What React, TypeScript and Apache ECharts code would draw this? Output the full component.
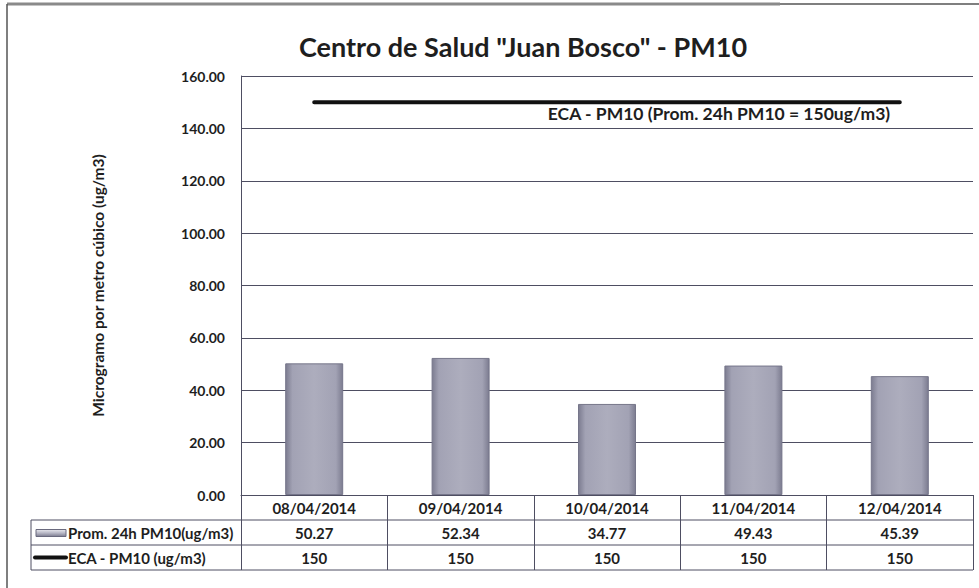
import React, { useEffect, useRef } from "react";
import * as echarts from "echarts";

const titleText = 'Centro de Salud "Juan Bosco" - PM10';
const yAxisName = "Microgramo por metro cúbico (ug/m3)";
const categories = ["08/04/2014", "09/04/2014", "10/04/2014", "11/04/2014", "12/04/2014"];
const barSeriesName = "Prom. 24h PM10(ug/m3)";
const lineSeriesName = "ECA - PM10 (ug/m3)";
const pm10Values = [50.27, 52.34, 34.77, 49.43, 45.39];
const ecaValues = [150, 150, 150, 150, 150];
const ecaLabel = "ECA - PM10 (Prom. 24h PM10 = 150ug/m3)";
const yMin = 0;
const yMax = 160;
const yStep = 20;

const FONT = "Lato, 'Open Sans', sans-serif";
const TXT = "#1e1e1e";

export default function App() {
  const ref = useRef<HTMLDivElement>(null);
  useEffect(() => {
    if (!ref.current) return;
    const chart = echarts.init(ref.current, null, { renderer: "svg" });
    const gridLeft = 241;
    const gridRight = 6;
    const gridTop = 76;
    const gridBottom = 93;
    const axisY = 588 - gridBottom;
    const tableLeft = 31;
    const tableRight = 979 - gridRight;
    const rowH = 25;
    const lineColor = "#4e4e62";
    const tableFont = 15;
    const option: any = {
      animation: false,
      backgroundColor: "#ffffff",
      textStyle: { fontFamily: FONT },
      title: {
        text: titleText,
        left: 518,
        top: 28,
        textAlign: "center",
        textStyle: { fontFamily: FONT, fontSize: 27, fontWeight: "bold", color: TXT },
      },
      grid: { left: gridLeft, right: gridRight, top: gridTop, bottom: gridBottom },
      xAxis: [
        {
          type: "category",
          data: categories,
          position: "bottom",
          axisLine: { show: true, lineStyle: { color: lineColor, width: 1 } },
          axisTick: { show: true, length: rowH * 3, lineStyle: { color: lineColor, width: 1 } },
          axisLabel: { margin: 5, fontFamily: FONT, fontSize: tableFont, fontWeight: "bold", color: TXT },
        },
        {
          type: "category",
          data: pm10Values.map((v) => v.toFixed(2)),
          position: "bottom",
          offset: rowH,
          axisLine: { show: false },
          axisTick: { show: false },
          axisLabel: { margin: 5, fontFamily: FONT, fontSize: tableFont, fontWeight: "bold", color: TXT },
        },
        {
          type: "category",
          data: ecaValues.map((v) => String(v)),
          position: "bottom",
          offset: rowH * 2,
          axisLine: { show: false },
          axisTick: { show: false },
          axisLabel: { margin: 5, fontFamily: FONT, fontSize: tableFont, fontWeight: "bold", color: TXT },
        },
      ],
      yAxis: {
        type: "value",
        min: yMin,
        max: yMax,
        interval: yStep,
        name: yAxisName,
        nameLocation: "middle",
        nameGap: 135,
        nameTextStyle: { fontFamily: FONT, fontSize: 15.5, fontWeight: "bold", color: TXT },
        axisLine: { show: true, lineStyle: { color: lineColor, width: 1 } },
        axisTick: { show: false },
        axisLabel: {
          margin: 16,
          fontFamily: FONT,
          fontSize: 14,
          fontWeight: "bold",
          color: TXT,
          formatter: (v: number) => v.toFixed(2),
        },
        splitLine: { show: true, lineStyle: { color: lineColor, width: 1 } },
      },
      series: [
        {
          name: barSeriesName,
          type: "bar",
          xAxisIndex: 0,
          data: pm10Values,
          barWidth: 58,
          itemStyle: {
            borderColor: "#76768a",
            borderWidth: 1,
            color: new echarts.graphic.LinearGradient(0, 0, 1, 0, [
              { offset: 0, color: "#7c7c90" },
              { offset: 0.12, color: "#a2a2b4" },
              { offset: 0.5, color: "#adadbd" },
              { offset: 0.88, color: "#a2a2b4" },
              { offset: 1, color: "#7c7c90" },
            ]),
          },
        },
        {
          name: lineSeriesName,
          type: "line",
          xAxisIndex: 0,
          data: ecaValues,
          symbol: "none",
          lineStyle: { color: "#111111", width: 4, cap: "round" },
        },
      ],
      graphic: [
        // outer frame
        { type: "line", shape: { x1: 7, y1: 4, x2: 780, y2: 4 }, style: { stroke: "#8a8a8a", lineWidth: 3 } },
        { type: "line", shape: { x1: 780, y1: 4, x2: 979, y2: 4 }, style: { stroke: "#555555", lineWidth: 1.5 } },
        { type: "line", shape: { x1: 7, y1: 4, x2: 7, y2: 588 }, style: { stroke: "#555555", lineWidth: 1.5 } },
        // ECA text box
        {
          type: "text",
          x: 719,
          y: 113,
          style: {
            text: ecaLabel,
            fontFamily: FONT,
            fontSize: 17.5,
            fontWeight: "bold",
            fill: TXT,
            align: "center",
            verticalAlign: "middle",
          },
        },
        // data table lines
        { type: "line", shape: { x1: tableLeft, y1: axisY + rowH, x2: tableRight, y2: axisY + rowH }, style: { stroke: lineColor, lineWidth: 1 } },
        { type: "line", shape: { x1: tableLeft, y1: axisY + rowH * 2, x2: tableRight, y2: axisY + rowH * 2 }, style: { stroke: lineColor, lineWidth: 1 } },
        { type: "line", shape: { x1: tableLeft, y1: axisY + rowH * 3, x2: tableRight, y2: axisY + rowH * 3 }, style: { stroke: lineColor, lineWidth: 1 } },
        { type: "line", shape: { x1: tableLeft, y1: axisY + rowH, x2: tableLeft, y2: axisY + rowH * 3 }, style: { stroke: lineColor, lineWidth: 1 } },
        // legend keys
        {
          type: "rect",
          shape: { x: 36, y: axisY + rowH * 1.5 - 3, width: 30, height: 7 },
          style: {
            fill: new echarts.graphic.LinearGradient(0, 0, 0, 1, [
              { offset: 0, color: "#e8e8ee" },
              { offset: 0.5, color: "#b8b8c6" },
              { offset: 1, color: "#7c7c90" },
            ]),
            stroke: "#6a6a7e",
            lineWidth: 1,
          },
        },
        {
          type: "line",
          shape: { x1: 35, y1: axisY + rowH * 2.5, x2: 66, y2: axisY + rowH * 2.5 },
          style: { stroke: "#111111", lineWidth: 4, lineCap: "round" },
        },
        {
          type: "text",
          x: 68,
          y: axisY + rowH * 1.5,
          style: { text: barSeriesName, fontFamily: FONT, fontSize: tableFont, fontWeight: "bold", fill: TXT, verticalAlign: "middle" },
        },
        {
          type: "text",
          x: 68,
          y: axisY + rowH * 2.5,
          style: { text: lineSeriesName, fontFamily: FONT, fontSize: tableFont, fontWeight: "bold", fill: TXT, verticalAlign: "middle" },
        },
      ],
    };
    chart.setOption(option);
    return () => chart.dispose();
  }, []);
  return (
    <div
      ref={ref}
      style={{ position: "fixed", left: 0, top: 0, width: 979, height: 588, background: "#fff" }}
    />
  );
}
